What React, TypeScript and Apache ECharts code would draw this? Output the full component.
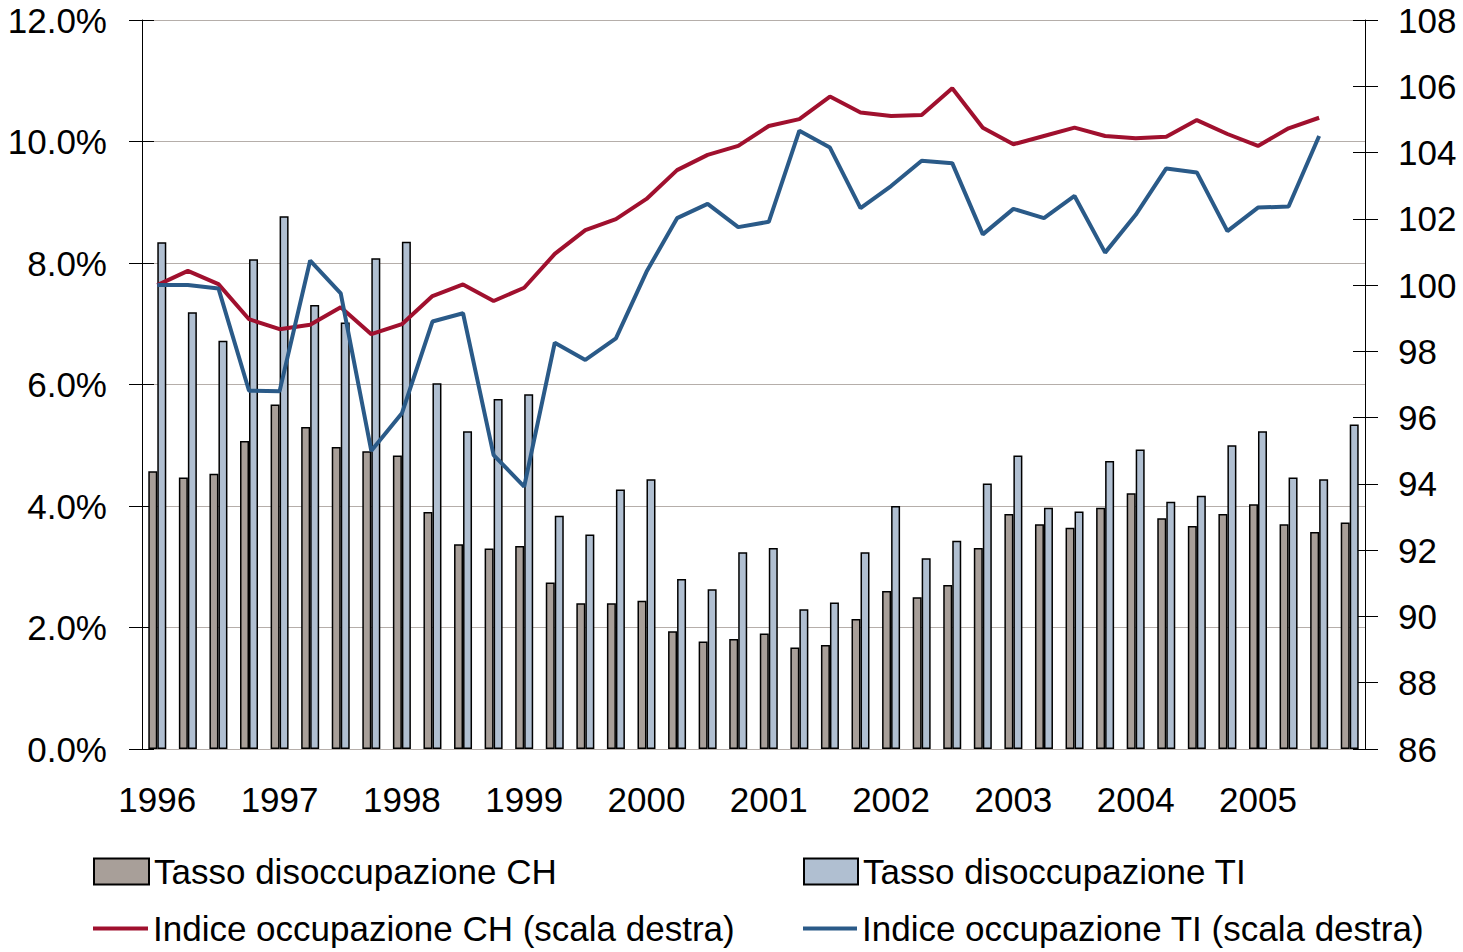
import React, { useEffect, useRef } from "react";
import * as echarts from "echarts";

const years = ["1996", "1997", "1998", "1999", "2000", "2001", "2002", "2003", "2004", "2005"];
const quarterNames = ["Q1", "Q2", "Q3", "Q4"];
const quarters = years.flatMap((y) => quarterNames.map((q) => `${y} ${q}`));

const chRate = [
  4.57, 4.47, 4.53, 5.07, 5.67, 5.3, 4.97, 4.9, 4.83, 3.9, 3.37, 3.3, 3.34, 2.74, 2.4, 2.4,
  2.44, 1.94, 1.77, 1.81, 1.9, 1.67, 1.71, 2.14, 2.6, 2.5, 2.7, 3.31, 3.87, 3.7, 3.64, 3.97,
  4.21, 3.8, 3.67, 3.87, 4.03, 3.7, 3.57, 3.73,
];
const tiRate = [
  8.34, 7.19, 6.72, 8.06, 8.77, 7.31, 7.02, 8.08, 8.35, 6.02, 5.23, 5.76, 5.84, 3.84, 3.53, 4.27,
  4.44, 2.8, 2.63, 3.24, 3.31, 2.3, 2.41, 3.24, 4.0, 3.14, 3.43, 4.37, 4.83, 3.97, 3.91, 4.74,
  4.93, 4.07, 4.17, 5.0, 5.23, 4.47, 4.44, 5.34,
];
const chIndex = [
  100, 100.43, 100.03, 98.97, 98.67, 98.8, 99.33, 98.52, 98.82, 99.67, 100.02, 99.52, 99.92,
  100.94, 101.66, 101.99, 102.6, 103.47, 103.93, 104.2, 104.8, 105.01, 105.69, 105.21, 105.1,
  105.13, 105.94, 104.75, 104.25, 104.5, 104.75, 104.5, 104.43, 104.48, 104.98, 104.56, 104.2,
  104.73, 105.05,
];
const tiIndex = [
  100, 100, 99.9, 96.81, 96.8, 100.74, 99.75, 95.0, 96.13, 98.9, 99.15, 94.87, 93.92, 98.26,
  97.74, 98.39, 100.4, 102.02, 102.45, 101.75, 101.91, 104.66, 104.15, 102.32, 102.99, 103.75,
  103.68, 101.53, 102.3, 102.02, 102.69, 100.98, 102.12, 103.52, 103.4, 101.63, 102.34, 102.37,
  104.5,
];

const NAMES = {
  chRate: "Tasso disoccupazione CH",
  tiRate: "Tasso disoccupazione TI",
  chIndex: "Indice occupazione CH (scala destra)",
  tiIndex: "Indice occupazione TI (scala destra)",
};

const FONT = "'Liberation Sans', Arial, Helvetica, sans-serif";
const GRID_COLOR = "#b5aeaa";
const FS = 35;

export default function App() {
  const ref = useRef<HTMLDivElement>(null);

  useEffect(() => {
    if (!ref.current) return;
    const chart = echarts.init(ref.current, null, { renderer: "svg" });
    const legendText = { fontSize: FS, color: "#000", fontFamily: FONT, lineHeight: 34 };
    const legendItem = (name: string, left: number, top: number, width: number, isLine: boolean) => ({
      orient: "horizontal",
      left,
      top,
      padding: 0,
      icon: "rect",
      itemWidth: width,
      itemHeight: isLine ? 4 : 26,
      textStyle: legendText,
      data: [name],
    });
    const option = {
      animation: false,
      textStyle: { fontFamily: FONT },
      grid: { left: 142, right: 98, top: 20, bottom: 203 },
      legend: [
        legendItem(NAMES.chRate, 93, 854, 55, false),
        legendItem(NAMES.chIndex, 93, 911, 55, true),
        legendItem(NAMES.tiRate, 803, 854, 54, false),
        legendItem(NAMES.tiIndex, 803, 911, 54, true),
      ],
      xAxis: {
        type: "category",
        data: quarters,
        boundaryGap: true,
        axisLine: { show: false },
        axisTick: { show: false },
        axisLabel: {
          interval: 0,
          fontSize: FS,
          color: "#000",
          fontFamily: FONT,
          margin: 33,
          formatter: (v: string, i: number) => (i % 4 === 0 ? v.split(" ")[0] : ""),
        },
      },
      yAxis: [
        {
          type: "value",
          position: "left",
          min: 0,
          max: 12,
          interval: 2,
          axisLine: { show: true, lineStyle: { color: "#000", width: 1 } },
          axisTick: { show: true, inside: false, length: 13, lineStyle: { color: "#000" } },
          axisLabel: {
            fontSize: FS,
            color: "#000",
            fontFamily: FONT,
            margin: 35,
            formatter: (v: number) => v.toFixed(1) + "%",
          },
          splitLine: { show: true, lineStyle: { color: GRID_COLOR, width: 1 } },
        },
        {
          type: "value",
          position: "left",
          min: 0,
          max: 12,
          interval: 2,
          axisLine: { show: false },
          axisTick: { show: true, inside: true, length: 12, lineStyle: { color: "#000" } },
          axisLabel: { show: false },
          splitLine: { show: false },
        },
        {
          type: "value",
          position: "right",
          min: 86,
          max: 108,
          interval: 2,
          axisLine: { show: true, lineStyle: { color: "#000", width: 1 } },
          axisTick: { show: true, inside: false, length: 13, lineStyle: { color: "#000" } },
          axisLabel: { fontSize: FS, color: "#000", fontFamily: FONT, margin: 33 },
          splitLine: { show: false },
        },
        {
          type: "value",
          position: "right",
          min: 86,
          max: 108,
          interval: 2,
          axisLine: { show: false },
          axisTick: { show: true, inside: true, length: 12, lineStyle: { color: "#000" } },
          axisLabel: { show: false },
          splitLine: { show: false },
        },
      ],
      series: [
        {
          name: NAMES.chRate,
          type: "bar",
          yAxisIndex: 0,
          data: chRate,
          barWidth: 9,
          barGap: "0%",
          itemStyle: { color: "#a89f99", borderColor: "#000", borderWidth: 1.5 },
        },
        {
          name: NAMES.tiRate,
          type: "bar",
          yAxisIndex: 0,
          data: tiRate,
          barWidth: 9,
          barGap: "0%",
          itemStyle: { color: "#b0bfd1", borderColor: "#000", borderWidth: 1.5 },
        },
        {
          name: NAMES.chIndex,
          type: "line",
          yAxisIndex: 2,
          data: chIndex,
          symbol: "none",
          lineStyle: { color: "#a0102e", width: 4 },
          itemStyle: { color: "#a0102e" },
        },
        {
          name: NAMES.tiIndex,
          type: "line",
          yAxisIndex: 2,
          data: tiIndex,
          symbol: "none",
          lineStyle: { color: "#2a5a88", width: 4 },
          itemStyle: { color: "#2a5a88" },
        },
      ],
    };
    chart.setOption(option as any);
    return () => chart.dispose();
  }, []);

  return (
    <div
      ref={ref}
      style={{ position: "absolute", left: 0, top: 0, width: 1463, height: 952, background: "#fff" }}
    />
  );
}
